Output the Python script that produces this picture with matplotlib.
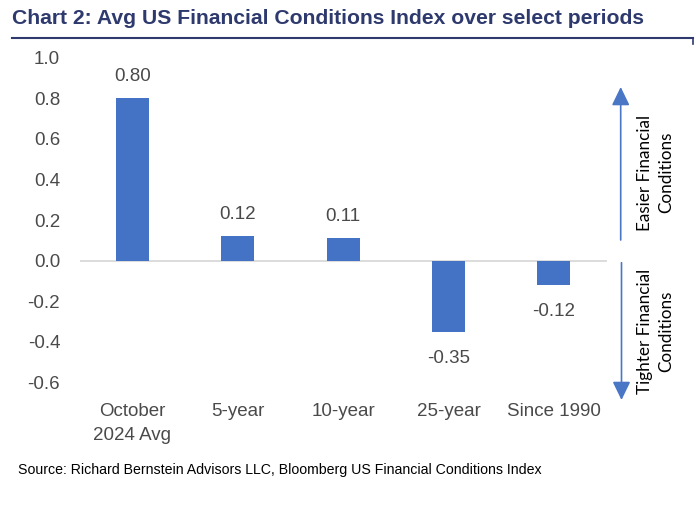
import matplotlib
matplotlib.use("Agg")
import matplotlib.pyplot as plt
from matplotlib.lines import Line2D
from matplotlib.patches import FancyArrowPatch

categories = ["October\n2024 Avg", "5-year", "10-year", "25-year", "Since 1990"]
values = [0.80, 0.12, 0.11, -0.35, -0.12]
value_labels = ["0.80", "0.12", "0.11", "-0.35", "-0.12"]
yticks = [-0.6, -0.4, -0.2, 0.0, 0.2, 0.4, 0.6, 0.8, 1.0]

W, H = 696, 515
fig = plt.figure(figsize=(W / 100, H / 100), dpi=100)
main_font = ['Liberation Sans', 'DejaVu Sans']
side_font = ['Lato', 'DejaVu Sans']
txt_col = '#4A4A4A'
bar_col = '#4472C4'
navy = '#2E3A6E'

def fx(px):
    return px / W

def fy(py):
    return 1 - py / H

ax = fig.add_axes([fx(79.6), fy(382.5), fx(606.6) - fx(79.6), fy(57.7) - fy(382.5)])
x = list(range(len(categories)))
ax.bar(x, values, width=0.313, color=bar_col, zorder=3)
ax.axhline(0, color='#D9D9D9', lw=1.3, zorder=2)
ax.set_xlim(-0.5, len(categories) - 0.5)
ax.set_ylim(-0.6, 1.0)
ax.set_yticks(yticks)
ax.set_yticklabels([f"{t:.1f}" for t in yticks], fontsize=13.5, color=txt_col, family=main_font)
ax.set_xticks(x)
ax.set_xticklabels(categories, fontsize=13.5, color=txt_col, family=main_font, linespacing=1.55)
ax.tick_params(axis='both', length=0)
ax.tick_params(axis='x', pad=15)
ax.tick_params(axis='y', pad=14)
for s in ax.spines.values():
    s.set_visible(False)

for xi, v, lab in zip(x, values, value_labels):
    if v >= 0:
        ax.annotate(lab, (xi, v), xytext=(0, 9.5), textcoords='offset points',
                    ha='center', va='bottom', fontsize=13.5, color=txt_col, family=main_font)
    else:
        ax.annotate(lab, (xi, v), xytext=(0, -13), textcoords='offset points',
                    ha='center', va='top', fontsize=13.5, color=txt_col, family=main_font)

# Title and rule
fig.text(fx(12), fy(19), "Chart 2: Avg US Financial Conditions Index over select periods",
         fontsize=15.2, fontweight='bold', color=navy, family=main_font, va='center', ha='left')
fig.add_artist(Line2D([fx(12), fx(693)], [fy(38), fy(38)], color=navy, lw=1.5))
fig.add_artist(Line2D([fx(693), fx(693)], [fy(38), fy(44)], color=navy, lw=1.2))

# Arrows
arrow_col = '#4A76C6'
fig.add_artist(FancyArrowPatch(
    (fx(620.7), fy(240)), (fx(620.7), fy(87)), transform=fig.transFigure,
    arrowstyle='-|>,head_length=7,head_width=3.4', color=arrow_col, lw=1.2,
    mutation_scale=1.6, shrinkA=0, shrinkB=0))
fig.add_artist(FancyArrowPatch(
    (fx(621.5), fy(262.7)), (fx(621.5), fy(400)), transform=fig.transFigure,
    arrowstyle='-|>,head_length=7,head_width=3.4', color=arrow_col, lw=1.2,
    mutation_scale=1.6, shrinkA=0, shrinkB=0))

fig.text(fx(655.5), fy(172.5), "Easier Financial\nConditions", rotation=90, ha='center', va='center',
         fontsize=12.3, color='black', family=side_font, linespacing=1.4)
fig.text(fx(655.5), fy(331.5), "Tighter Financial\nConditions", rotation=90, ha='center', va='center',
         fontsize=12.3, color='black', family=side_font, linespacing=1.4)

fig.text(fx(18), fy(470), "Source: Richard Bernstein Advisors LLC, Bloomberg US Financial Conditions Index",
         fontsize=10.2, color='black', family=main_font, va='center', ha='left')

fig.savefig("out.png", dpi=100)
